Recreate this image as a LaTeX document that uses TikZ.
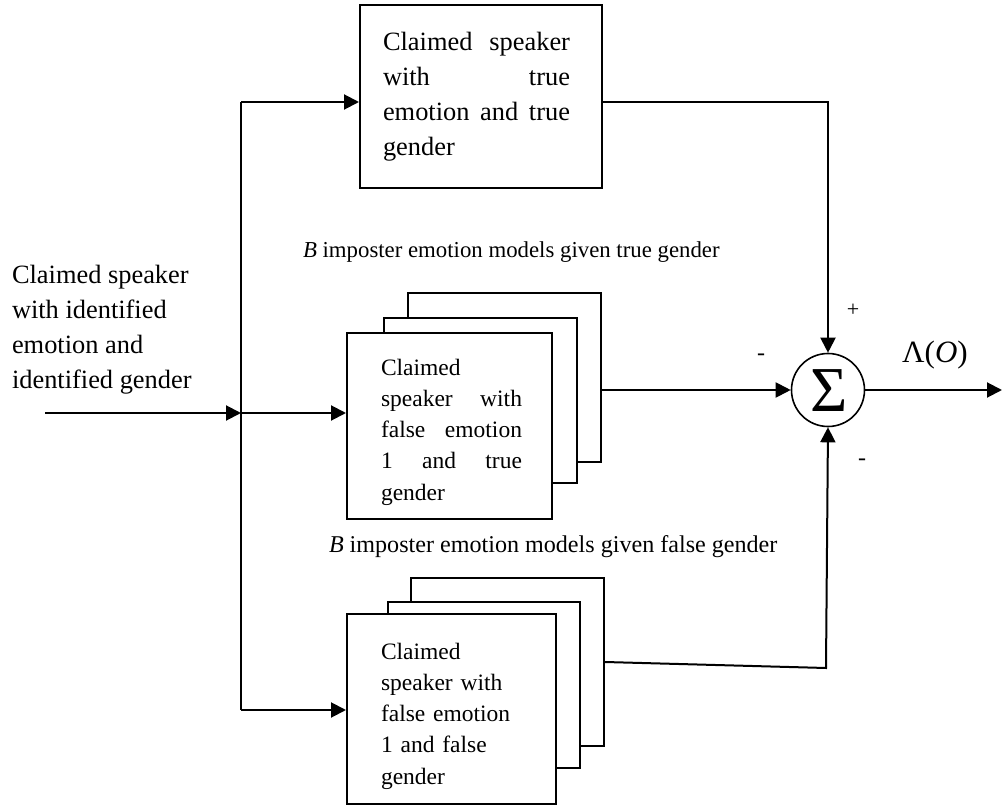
\documentclass[tikz,border=0pt]{standalone}
\usepackage{fontspec}
\setmainfont{Liberation Serif}
\usetikzlibrary{arrows.meta}
\begin{document}
\begin{tikzpicture}[x=0.5pt,y=-0.5pt,line width=1pt,
  box/.style={draw,fill=white,inner sep=0pt},
  boxtext/.style={inner sep=0pt,align=left},
  arr/.style={-{Triangle[length=7.5pt,width=7.5pt]}},
  bigtext/.style={font=\fontsize{13.2pt}{17.5pt}\selectfont},
  smalltext/.style={font=\fontsize{11.75pt}{15.6pt}\selectfont},
  lbl/.style={inner sep=0pt}]
\useasboundingbox (0,0) rectangle (1003,808);

% left input text
\node[bigtext,align=left,anchor=north west,inner sep=0pt] (intext) at (11,264)
  {Claimed speaker\\with identified\\emotion and\\identified gender};

% top box
\node[box,minimum width=121pt,minimum height=91.5pt] (top) at (481,96.5) {};
\node[boxtext,bigtext,text width=93.5pt] (toptext) at (476.5,96.5)
  {Claimed\hfill speaker\\with\hfill true\\emotion\hfill and\hfill true\\gender};

% labels
\node[lbl,anchor=west,font=\fontsize{11.4pt}{14pt}\selectfont] (lbltrue) at (302,252) {\textit{B} imposter emotion models given true gender};
\node[lbl,anchor=west,font=\fontsize{12.05pt}{14pt}\selectfont] (lblfalse) at (328,547) {\textit{B} imposter emotion models given false gender};

% middle stack
\node[box,minimum width=96.5pt,minimum height=84.5pt] (mb3) at (504.5,377.5) {};
\node[box,minimum width=96.5pt,minimum height=82.5pt] (mb2) at (480.5,400.5) {};
\node[box,minimum width=102.5pt,minimum height=93pt] (mf) at (449.5,426) {};
\node[boxtext,smalltext,text width=70.5pt] (mftext) at (451.5,432)
  {Claimed\\speaker\hfill with\\false\hfill emotion\\1\hfill and\hfill true\\gender};

% bottom stack
\node[box,minimum width=96.5pt,minimum height=84pt] (bb3) at (507.5,662) {};
\node[box,minimum width=96pt,minimum height=83pt] (bb2) at (484,685) {};
\node[box,minimum width=104.5pt,minimum height=95pt] (bf) at (451.5,709) {};
\node[boxtext,smalltext,text width=70.5pt] (bftext) at (451.5,716)
  {Claimed\\speaker with\\false emotion\\1 and false\\gender};

% summing junction
\node[draw,circle,line width=0.8pt,minimum size=36.5pt,inner sep=0pt] (sum) at (828,390) {};
\node[inner sep=0pt,font=\fontsize{32pt}{32pt}\selectfont] (sigma) at (829,391) {Σ};

% signs and output label
\node[inner sep=0pt,font=\fontsize{11pt}{12pt}\selectfont] (plus) at (853,310) {+};
\node[inner sep=0pt,font=\fontsize{12pt}{12pt}\selectfont] (minusa) at (761,357) {-};
\node[inner sep=0pt,font=\fontsize{12pt}{12pt}\selectfont] (minusb) at (862,462) {-};
\node[inner sep=0pt,font=\fontsize{15.5pt}{16pt}\selectfont] (lam) at (935,355) {Λ(\textit{O})};

% connectors
\coordinate (in) at (45,413);
\coordinate (split) at (241,413);
\coordinate (ttop) at (241,102);
\coordinate (tbot) at (241,710);
\coordinate (bk) at (826,668);
\coordinate (out) at (1002,390);

\draw[arr] (in) -- (split);
\draw (ttop) -- (tbot);
\draw[arr] (split) -- (mf.west |- split);
\draw[arr] (ttop) -- (top.west |- ttop);
\draw[arr] (tbot) -- (bf.west |- tbot);

\draw[arr] (top.east |- ttop) -| (sum.north);
\draw[arr] (mb3.east |- sum.west) -- (sum.west);
\draw[arr] (bb3.east) -- (bk) -- (sum.south);
\draw[arr] (sum.east) -- (out);
\end{tikzpicture}
\end{document}
